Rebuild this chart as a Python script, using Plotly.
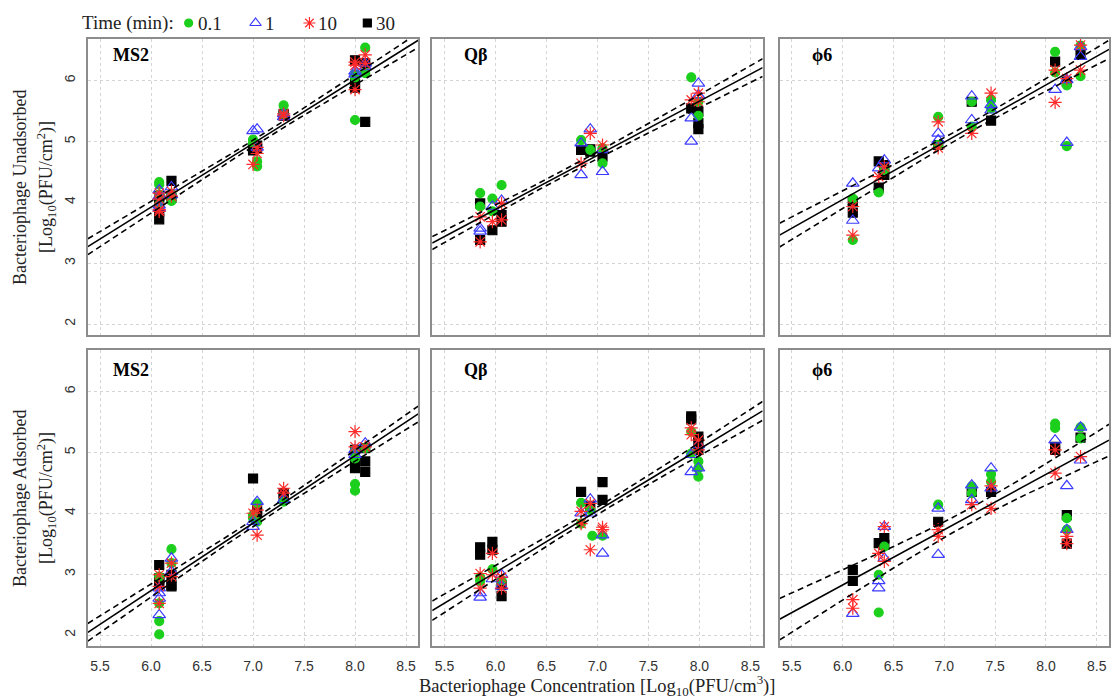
import numpy as np
import plotly.graph_objects as go

# ---------------- data ----------------
time_labels = ["0.1", "1", "10", "30"]
panel_titles = ["MS2", "Qβ", "ϕ6", "MS2", "Qβ", "ϕ6"]
row_titles = ["Bacteriophage Unadsorbed", "Bacteriophage Adsorbed"]

# Panel 1: MS2, unadsorbed
ms2_un_t01 = [(6.08, 4.33), (6.08, 4.29), (6.08, 4.12), (6.08, 3.96), (6.2, 4.02), (6.2, 4.14), (7.0, 5.03), (7.0, 4.97),
              (7.04, 4.67), (7.04, 4.59), (7.3, 5.59), (7.3, 5.45), (8.0, 5.35), (8.0, 6.1), (8.0, 6.05), (8.1, 6.54), (8.1, 6.12)]
ms2_un_t1 = [(6.08, 4.2), (6.08, 4.1), (6.08, 3.95), (6.08, 3.9), (6.2, 4.25), (6.2, 4.12), (7.0, 5.17), (7.04, 5.2),
             (7.04, 4.9), (7.3, 5.4), (7.3, 5.45), (8.0, 6.15), (8.0, 6.1), (8.1, 6.28), (8.1, 6.22)]
ms2_un_t10 = [(6.08, 3.85), (6.08, 3.88), (6.08, 4.05), (6.08, 4.15), (6.2, 4.18), (6.2, 4.1), (7.0, 4.62), (7.04, 4.8),
              (7.04, 4.9), (7.3, 5.45), (7.3, 5.42), (8.0, 6.3), (8.0, 5.85), (8.0, 6.25), (8.1, 6.42), (8.1, 6.28)]
ms2_un_t30 = [(6.08, 4.1), (6.08, 4.05), (6.08, 3.72), (6.08, 3.85), (6.2, 4.35), (6.2, 4.07), (7.0, 4.85), (7.0, 4.9),
              (7.04, 4.93), (7.04, 4.88), (7.3, 5.45), (7.3, 5.42), (8.0, 6.33), (8.0, 5.95), (8.0, 5.88), (8.1, 6.28), (8.1, 5.32)]

# Panel 2: Qbeta, unadsorbed
qb_un_t01 = [(5.85, 4.15), (5.85, 3.93), (5.97, 4.06), (5.97, 3.85), (6.06, 4.28), (6.84, 5.02), (6.93, 4.86), (7.05, 4.89),
             (7.05, 4.64), (7.92, 6.05), (7.99, 5.65), (7.99, 5.42)]
qb_un_t1 = [(5.85, 3.57), (5.85, 3.52), (5.97, 3.93), (6.06, 4.03), (6.84, 4.97), (6.84, 4.45), (6.93, 5.2), (7.05, 4.5),
            (7.05, 4.86), (7.92, 5.38), (7.92, 5.0), (7.99, 5.95), (7.99, 5.76)]
qb_un_t10 = [(5.85, 3.76), (5.85, 3.35), (5.97, 3.68), (6.06, 3.98), (6.06, 3.71), (6.84, 4.64), (6.93, 5.13), (7.05, 4.94),
             (7.92, 5.68), (7.99, 5.79), (7.99, 5.65)]
qb_un_t30 = [(5.85, 3.98), (5.85, 3.38), (5.97, 3.54), (6.06, 3.79), (6.06, 3.68), (6.84, 4.86), (6.93, 4.83), (6.93, 4.87),
             (7.05, 4.75), (7.92, 5.54), (7.99, 5.49), (7.99, 5.3), (7.99, 5.2)]

# Panel 3: phi6, unadsorbed
phi_un_t01 = [(6.10, 4.06), (6.10, 3.38), (6.355, 4.16), (6.41, 4.53), (6.94, 5.40), (6.94, 4.94), (7.27, 5.24), (7.27, 5.65),
              (7.46, 5.68), (7.46, 5.54), (8.09, 6.47), (8.09, 6.13), (8.205, 4.92), (8.205, 5.92), (8.34, 6.57), (8.34, 6.07)]
phi_un_t1 = [(6.10, 4.31), (6.10, 3.70), (6.355, 4.56), (6.41, 4.69), (6.94, 5.13), (6.94, 5.02), (7.27, 5.74), (7.27, 5.35),
             (7.46, 5.6), (7.46, 5.51), (8.09, 5.85), (8.205, 4.98), (8.205, 6.01), (8.34, 6.55), (8.34, 6.39)]
phi_un_t10 = [(6.10, 3.46), (6.10, 3.93), (6.355, 4.42), (6.41, 4.58), (6.94, 5.32), (6.94, 4.89), (7.27, 5.13), (7.46, 5.79),
              (8.09, 6.17), (8.09, 5.64), (8.205, 6.03), (8.34, 6.17), (8.34, 6.58)]
phi_un_t30 = [(6.10, 3.83), (6.10, 4.01), (6.355, 4.67), (6.355, 4.24), (6.41, 4.61), (6.41, 4.45), (6.94, 4.94), (7.27, 5.65),
              (7.46, 5.34), (8.09, 6.31), (8.205, 5.98), (8.34, 6.42)]

# Panel 4: MS2, adsorbed
ms2_ad_t01 = [(6.08, 2.96), (6.08, 2.52), (6.08, 2.23), (6.08, 2.01), (6.2, 3.41), (6.2, 3.18), (7.0, 3.97), (7.0, 3.92),
              (7.04, 4.16), (7.04, 3.86), (7.3, 4.19), (8.0, 5.04), (8.0, 4.9), (8.0, 4.48), (8.0, 4.37), (8.1, 5.07)]
ms2_ad_t1 = [(6.08, 2.77), (6.08, 2.69), (6.08, 2.6), (6.08, 2.33), (6.2, 3.26), (6.2, 3.04), (7.0, 3.86), (7.0, 3.78),
             (7.04, 4.19), (7.3, 4.22), (8.0, 5.04), (8.0, 4.96), (8.1, 5.15)]
ms2_ad_t10 = [(6.08, 2.99), (6.08, 2.8), (6.08, 2.52), (6.2, 3.18), (6.2, 2.96), (7.0, 4.0), (7.04, 3.64), (7.04, 4.05),
              (7.3, 4.41), (7.3, 4.33), (8.0, 5.34), (8.0, 5.09), (8.1, 5.09)]
ms2_ad_t30 = [(6.08, 3.15), (6.08, 2.93), (6.08, 2.85), (6.08, 2.9), (6.2, 2.82), (6.2, 2.8), (6.2, 2.99), (7.0, 4.57),
              (7.04, 4.08), (7.04, 4.0), (7.3, 4.33), (7.3, 4.24), (8.0, 5.04), (8.0, 4.83), (8.0, 4.74), (8.1, 4.85),
              (8.1, 4.68), (8.1, 5.07)]

# Panel 5: Qbeta, adsorbed
qb_ad_t01 = [(5.85, 2.95), (5.85, 2.89), (5.97, 3.08), (6.06, 2.9), (6.84, 4.17), (6.84, 3.83), (6.93, 4.05), (6.95, 3.63),
             (7.05, 3.63), (7.92, 5.34), (7.92, 4.98), (7.99, 4.85), (7.99, 4.74), (7.99, 4.6)]
qb_ad_t1 = [(5.85, 2.69), (5.85, 2.62), (5.97, 2.92), (6.06, 2.99), (6.06, 2.8), (6.84, 4.0), (6.93, 4.23), (6.93, 4.0),
            (7.05, 3.64), (7.05, 3.34), (7.92, 4.96), (7.92, 4.68), (7.99, 5.12), (7.99, 4.74)]
qb_ad_t10 = [(5.85, 3.01), (5.85, 2.77), (5.97, 3.34), (5.97, 2.99), (6.06, 2.95), (6.06, 2.77), (6.84, 4.03), (6.84, 3.83),
             (6.93, 4.16), (6.93, 3.40), (7.05, 3.77), (7.05, 3.73), (7.92, 5.40), (7.92, 5.29), (7.99, 5.2), (7.99, 5.04)]
qb_ad_t30 = [(5.85, 3.44), (5.85, 3.32), (5.97, 3.53), (5.97, 3.4), (6.06, 2.82), (6.06, 2.64), (6.84, 4.35), (6.93, 4.12),
             (7.05, 4.51), (7.05, 4.22), (7.92, 5.59), (7.92, 5.54), (7.99, 5.26), (7.99, 5.04), (7.99, 5.2)]

# Panel 6: phi6, adsorbed
phi_ad_t01 = [(6.355, 2.99), (6.355, 2.37), (6.41, 3.45), (6.94, 4.14), (7.27, 4.44), (7.27, 4.33), (7.46, 4.64), (7.46, 4.52),
              (8.09, 5.47), (8.09, 5.4), (8.205, 3.92), (8.205, 3.73), (8.34, 5.41), (8.34, 5.23)]
phi_ad_t1 = [(6.10, 2.35), (6.355, 2.89), (6.355, 2.77), (6.41, 3.78), (6.41, 3.26), (6.94, 4.08), (6.94, 3.32), (7.27, 4.46),
             (7.27, 4.22), (7.46, 4.74), (7.46, 4.41), (8.09, 5.2), (8.205, 4.45), (8.205, 3.73), (8.34, 5.41), (8.34, 4.87)]
phi_ad_t10 = [(6.10, 2.58), (6.10, 2.44), (6.355, 3.34), (6.41, 3.78), (6.41, 3.21), (6.94, 3.73), (6.94, 3.62), (7.27, 4.14),
              (7.46, 4.45), (7.46, 4.08), (8.09, 5.04), (8.09, 4.66), (8.205, 3.62), (8.205, 3.5), (8.34, 4.93)]
phi_ad_t30 = [(6.10, 3.07), (6.10, 2.89), (6.355, 3.51), (6.41, 3.59), (6.41, 3.48), (6.94, 3.86), (7.27, 4.35), (7.46, 4.35),
              (8.09, 5.09), (8.09, 5.04), (8.205, 3.97), (8.205, 3.5), (8.34, 5.24)]

panel_series = [
    [ms2_un_t01, ms2_un_t1, ms2_un_t10, ms2_un_t30],
    [qb_un_t01, qb_un_t1, qb_un_t10, qb_un_t30],
    [phi_un_t01, phi_un_t1, phi_un_t10, phi_un_t30],
    [ms2_ad_t01, ms2_ad_t1, ms2_ad_t10, ms2_ad_t30],
    [qb_ad_t01, qb_ad_t1, qb_ad_t10, qb_ad_t30],
    [phi_ad_t01, phi_ad_t1, phi_ad_t10, phi_ad_t30],
]

# regression fit: fitted value at left / right end of x range
fit_left = [3.27, 3.33, 3.46, 2.045, 2.40, 2.26]
fit_right = [6.66, 6.21, 6.51, 5.63, 5.68, 5.20]
# half-width of the confidence band: at left end, at right end, and minimum
band_left = [0.13, 0.105, 0.195, 0.145, 0.16, 0.34]
band_right = [0.12, 0.145, 0.15, 0.13, 0.155, 0.26]
band_min = [0.05, 0.05, 0.07, 0.055, 0.06, 0.12]

x_ticks = [5.5, 6.0, 6.5, 7.0, 7.5, 8.0, 8.5]
y_ticks = [2, 3, 4, 5, 6]

# ---------------- styling / layout ----------------
X_RANGE = [5.38, 8.62]
Y_RANGE = [1.82, 6.68]
W, H = 1111, 698
colors = ["#1ccf1c", "#3b3bff", "#ff2a2a", "#000000"]
symbols = ["circle", "triangle-up-open", "asterisk-open", "square"]
sizes = [9, 11, 11, 9]
draw_order = [3, 0, 1, 2]

col_px = [(88, 419), (433, 764), (781, 1111)]
row_px = [(39, 335), (350, 646)]
SERIF = "Liberation Serif, Times New Roman, serif"
SANS = "Liberation Sans, Arial, sans-serif"

fig = go.Figure()
layout = dict(width=W, height=H, margin=dict(l=0, r=0, t=0, b=0),
              paper_bgcolor="white", plot_bgcolor="rgba(0,0,0,0)", showlegend=False)

annotations = []
for i in range(6):
    r, c = divmod(i, 3)
    xa = "x" if i == 0 else f"x{i+1}"
    ya = "y" if i == 0 else f"y{i+1}"
    xkey = "xaxis" if i == 0 else f"xaxis{i+1}"
    ykey = "yaxis" if i == 0 else f"yaxis{i+1}"
    x0, x1 = col_px[c]
    y0, y1 = row_px[r]
    common = dict(showline=True, mirror=True, linecolor="#8c8c8c", linewidth=1.5,
                  showgrid=True, gridcolor="#d4d4d4", gridwidth=1, griddash="dot",
                  zeroline=False, fixedrange=True)
    layout[xkey] = dict(common, domain=[x0 / W, x1 / W], range=X_RANGE, anchor=ya,
                        tickvals=x_ticks, ticktext=[f"{v:.1f}" for v in x_ticks],
                        showticklabels=(r == 1), ticks="outside", ticklen=6,
                        tickcolor="rgba(0,0,0,0)",
                        tickfont=dict(family=SANS, size=14, color="#333333"))
    layout[ykey] = dict(common, domain=[1 - y1 / H, 1 - y0 / H], range=Y_RANGE, anchor=xa,
                        tickvals=y_ticks, ticktext=[str(v) for v in y_ticks],
                        showticklabels=(c == 0), tickangle=-90, ticks="outside", ticklen=5,
                        tickcolor="rgba(0,0,0,0)",
                        tickfont=dict(family=SANS, size=14, color="#333333"))

    for k in draw_order:
        pts = panel_series[i][k]
        fig.add_trace(go.Scatter(
            x=[p[0] for p in pts], y=[p[1] for p in pts], mode="markers",
            name=time_labels[k], xaxis=xa, yaxis=ya,
            marker=dict(symbol=symbols[k], color=colors[k], size=sizes[k],
                        line=dict(width=1.2, color=colors[k]))))

    # regression line with hyperbolic confidence band
    xs = np.linspace(X_RANGE[0], X_RANGE[1], 120)
    L = X_RANGE[1] - X_RANGE[0]
    fit = fit_left[i] + (fit_right[i] - fit_left[i]) * (xs - X_RANGE[0]) / L
    a = np.sqrt(band_left[i] ** 2 - band_min[i] ** 2)
    b = np.sqrt(band_right[i] ** 2 - band_min[i] ** 2)
    dl = L * a / (a + b)
    xm = X_RANGE[0] + dl
    kk = a / dl
    w = np.sqrt(band_min[i] ** 2 + (kk * (xs - xm)) ** 2)
    fig.add_trace(go.Scatter(x=xs, y=fit, mode="lines", xaxis=xa, yaxis=ya,
                             line=dict(color="black", width=1.6), hoverinfo="skip"))
    for sgn in (1, -1):
        fig.add_trace(go.Scatter(x=xs, y=fit + sgn * w, mode="lines", xaxis=xa, yaxis=ya,
                                 line=dict(color="black", width=1.6, dash="6px,4px"),
                                 hoverinfo="skip"))

    annotations.append(dict(text=f"<b>{panel_titles[i]}</b>", xref=f"{xa} domain", yref=f"{ya} domain",
                            x=0.13, y=(0.946 if r == 0 else 0.932), xanchor="center", yanchor="middle",
                            showarrow=False, font=dict(family=SERIF, size=18, color="black")))

# y-axis titles (two lines each)
for r, title in enumerate(row_titles):
    yc = (sum(row_px[r]) / 2) / H
    annotations.append(dict(text=title, xref="paper", yref="paper", x=20 / W, y=1 - yc,
                            textangle=-90, showarrow=False, xanchor="center", yanchor="middle",
                            font=dict(family=SERIF, size=18, color="#222222")))
    annotations.append(dict(text="[Log<sub>10</sub>(PFU/cm<sup>2</sup>)]", xref="paper", yref="paper",
                            x=46 / W, y=1 - yc, textangle=-90, showarrow=False,
                            xanchor="center", yanchor="middle",
                            font=dict(family=SERIF, size=18, color="#222222")))

# x-axis title
annotations.append(dict(text="Bacteriophage Concentration [Log<sub>10</sub>(PFU/cm<sup>3</sup>)]",
                        xref="paper", yref="paper", x=598 / W, y=1 - 685 / H, showarrow=False,
                        xanchor="center", yanchor="middle",
                        font=dict(family=SERIF, size=18.5, color="#222222")))

# legend drawn on an invisible pixel-space axis in the strip above the panels
TOP = 37
legend_x = [189, 256, 310, 368]
legend_y = 23
layout["xaxis7"] = dict(domain=[0, 1], range=[0, W], visible=False, fixedrange=True, anchor="y7")
layout["yaxis7"] = dict(domain=[1 - TOP / H, 1], range=[TOP, 0], visible=False, fixedrange=True, anchor="x7")
annotations.append(dict(text="Time (min):", xref="x7", yref="y7", x=80, y=legend_y, xanchor="left",
                        yanchor="middle", showarrow=False, font=dict(family=SERIF, size=19, color="#222222")))
for k in range(4):
    fig.add_trace(go.Scatter(x=[legend_x[k]], y=[legend_y], mode="markers", xaxis="x7", yaxis="y7",
                             marker=dict(symbol=symbols[k], color=colors[k], size=sizes[k] - 1,
                                         line=dict(width=1.2, color=colors[k])),
                             hoverinfo="skip", cliponaxis=False))
    annotations.append(dict(text=time_labels[k], xref="x7", yref="y7", x=legend_x[k] + 7, y=legend_y,
                            xanchor="left", yanchor="middle", showarrow=False,
                            font=dict(family=SERIF, size=19, color="#222222")))

layout["annotations"] = annotations
fig.update_layout(**layout)
fig.write_html("out.html", config={"displayModeBar": False},
               post_script="document.body.style.margin='0px';")
